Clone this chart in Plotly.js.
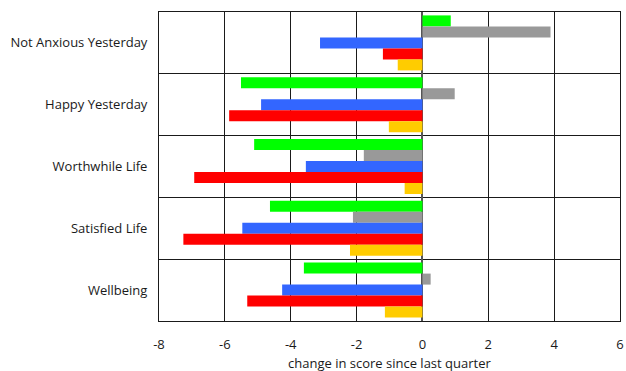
<!DOCTYPE html>
<html>
<head>
<meta charset="utf-8">
<script src="https://cdn.plot.ly/plotly-3.0.1.min.js"></script>
<style>html,body{margin:0;padding:0;background:#fff;}#chart{width:626px;height:371px;}</style>
</head>
<body>
<div id="chart"></div>
<script>
const categories = ['Not Anxious Yesterday', 'Happy Yesterday', 'Worthwhile Life', 'Satisfied Life', 'Wellbeing'];
const seriesGreen  = [0.86, -5.51, -5.11, -4.63, -3.60];
const seriesGray   = [3.89, 0.98, -1.78, -2.11, 0.25];
const seriesBlue   = [-3.11, -4.90, -3.54, -5.47, -4.26];
const seriesRed    = [-1.20, -5.87, -6.93, -7.26, -5.32];
const seriesYellow = [-0.75, -1.02, -0.54, -2.20, -1.14];
const xTicks = [-8, -6, -4, -2, 0, 2, 4, 6];
const xTitle = 'change in score since last quarter';

const series = [
  {name: 'green', values: seriesGreen, color: '#00ff00'},
  {name: 'gray', values: seriesGray, color: '#999999'},
  {name: 'blue', values: seriesBlue, color: '#3366ff'},
  {name: 'red', values: seriesRed, color: '#ff0000'},
  {name: 'yellow', values: seriesYellow, color: '#ffcc00'}
];

const traces = series.map(s => ({
  type: 'bar',
  orientation: 'h',
  y: categories,
  x: s.values,
  name: s.name,
  marker: {color: s.color, line: {width: 0}},
  hoverinfo: 'x+y'
}));

const layout = {
  width: 626,
  height: 371,
  margin: {l: 159, r: 6, t: 12, b: 50},
  paper_bgcolor: '#ffffff',
  plot_bgcolor: '#ffffff',
  showlegend: false,
  barmode: 'group',
  bargap: 0.11,
  bargroupgap: 0,
  font: {family: 'Open Sans, Noto Sans, sans-serif', size: 13, color: '#1a1a1a'},
  xaxis: {
    range: [-8, 6],
    tickvals: xTicks,
    ticktext: xTicks.map(String),
    showgrid: true,
    gridcolor: '#1a1a1a',
    gridwidth: 1,
    zeroline: true,
    zerolinecolor: '#555',
    zerolinewidth: 2,
    showline: true,
    linecolor: '#1a1a1a',
    linewidth: 1,
    mirror: true,
    ticks: '',
    ticklabelstandoff: 11,
    tickfont: {size: 13, color: '#1a1a1a'},
    fixedrange: true
  },
  yaxis: {
    type: 'category',
    autorange: 'reversed',
    tickson: 'boundaries',
    showgrid: true,
    gridcolor: '#1a1a1a',
    gridwidth: 1,
    showline: true,
    linecolor: '#1a1a1a',
    linewidth: 1,
    mirror: true,
    ticks: '',
    ticklabelstandoff: 8,
    tickfont: {size: 13, color: '#1a1a1a'},
    fixedrange: true
  },
  annotations: [{
    text: xTitle,
    xref: 'paper', yref: 'paper',
    x: 0.5, y: 0,
    xanchor: 'center', yanchor: 'middle',
    yshift: -42,
    showarrow: false,
    font: {size: 13, color: '#1a1a1a'}
  }]
};

Plotly.newPlot('chart', traces, layout, {displayModeBar: false, staticPlot: true});
</script>
</body>
</html>
